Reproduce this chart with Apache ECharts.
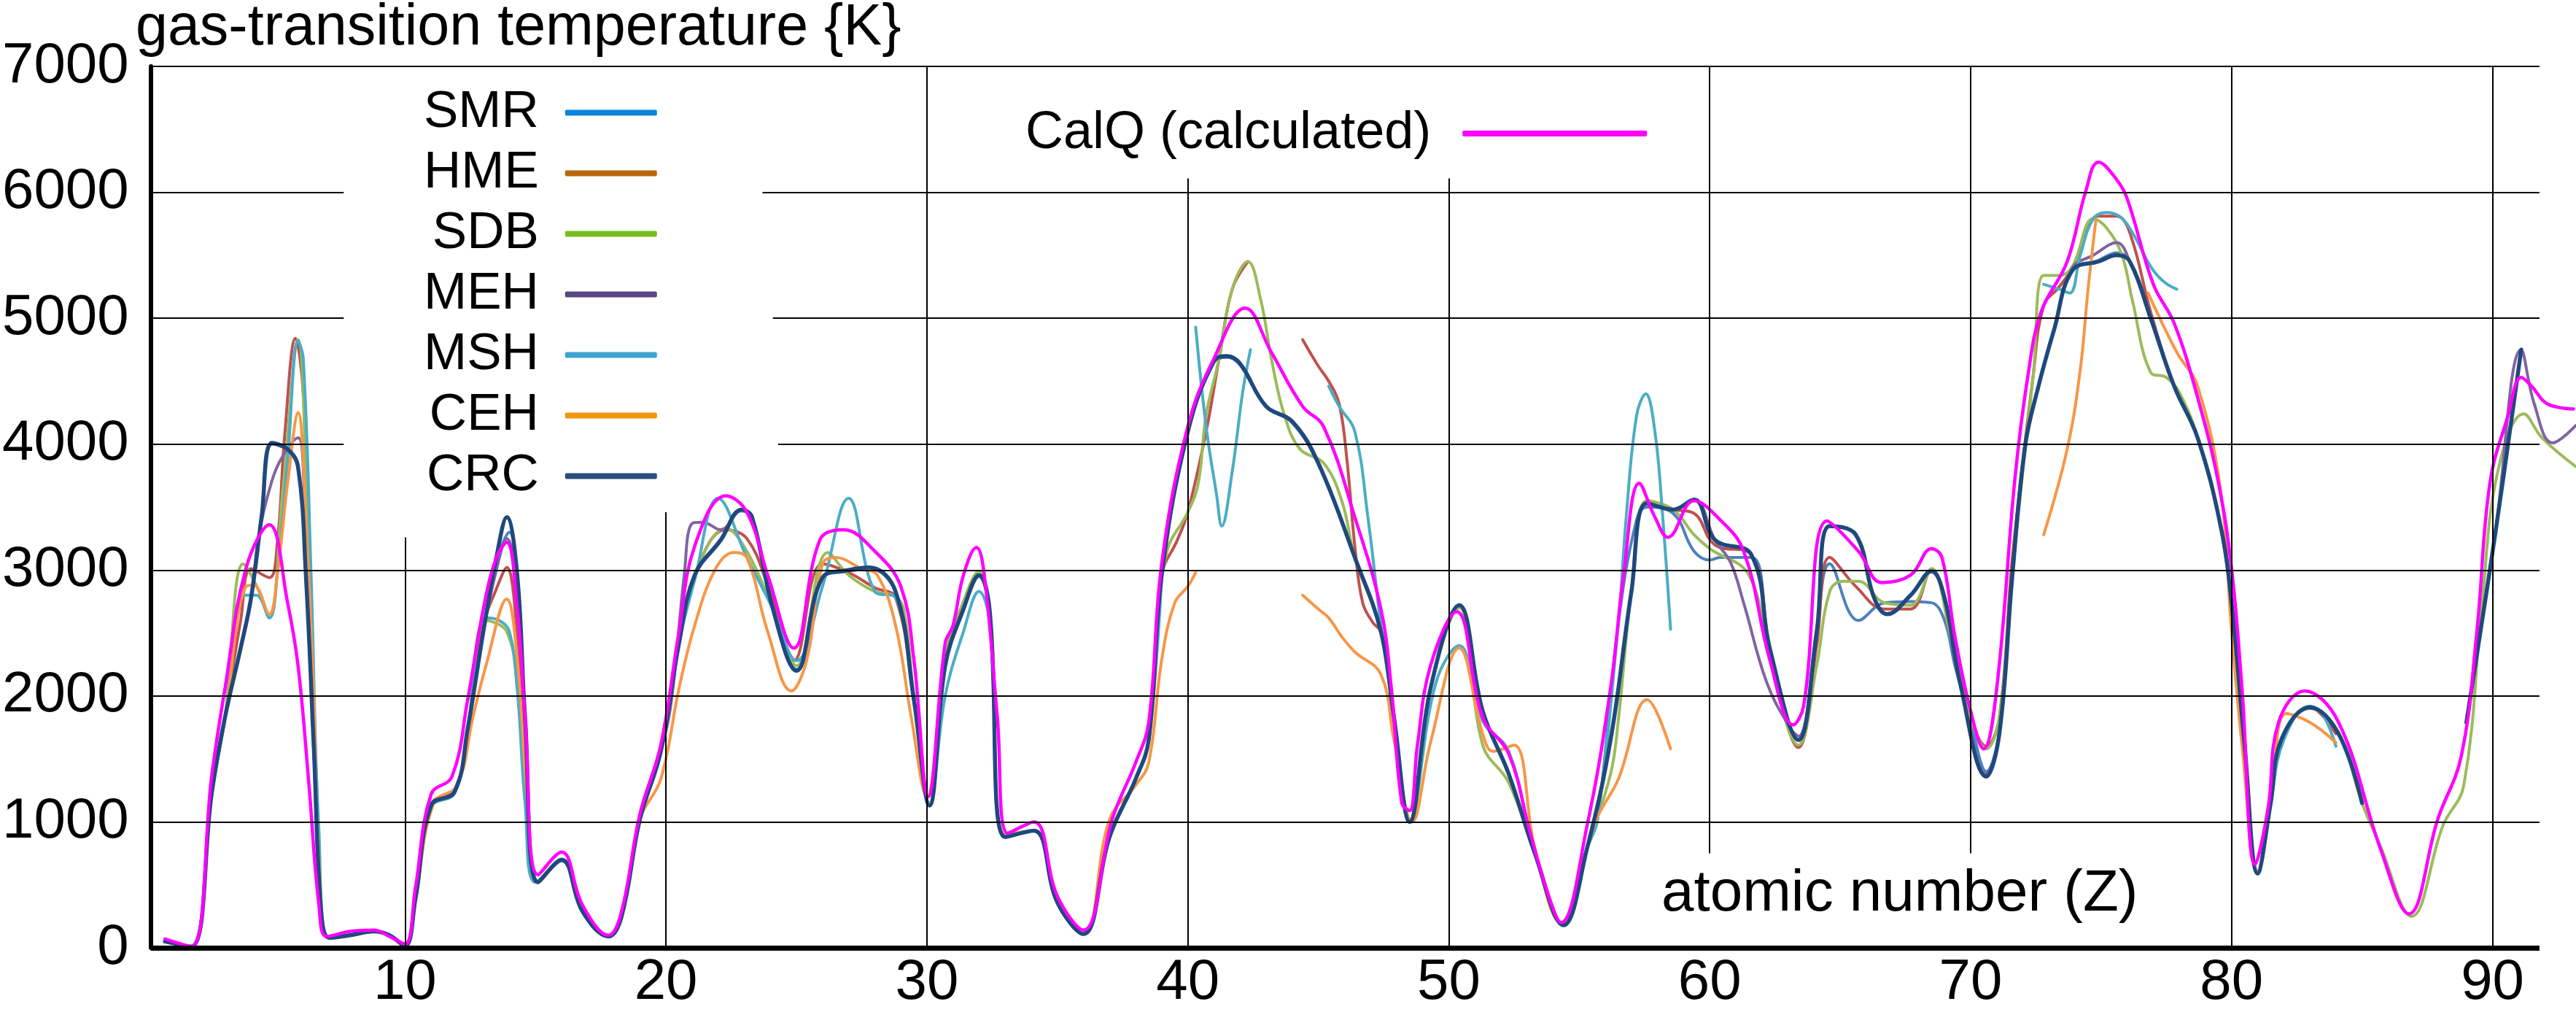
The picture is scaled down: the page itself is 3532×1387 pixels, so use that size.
<!DOCTYPE html>
<html>
<head>
<meta charset="utf-8">
<script src="https://cdn.jsdelivr.net/npm/echarts@6/dist/echarts.min.js"></script>
<style>
  html, body { margin: 0; padding: 0; background: #fff; }
  #chart { width: 3532px; height: 1387px; }
</style>
</head>
<body>
<div id="chart"></div>
<script>
// 气化温度 vs 原子序数
var FONT = '"Liberation Sans", Arial, sans-serif';
var GAP = '-';

var yTicks = [0, 1000, 2000, 3000, 4000, 5000, 6000, 7000];
var xTicks = [10, 20, 30, 40, 50, 60, 70, 80, 90];

var seriesNames = ['SMR', 'HME', 'SDB', 'MEH', 'MSH', 'CEH', 'CRC'];
var calqName = 'CalQ (calculated)';

// [Z, T(K)]
var smr = [[0.8,50],[1.8,10],[2.6,1240],[3.1,1830],[3.7,2380],[4.1,2780],[4.5,3420],[4.9,4000],[5.5,3950],[5.9,3810],[6.2,2960],[6.5,1610],[6.8,250],[7.1,80],[7.9,100],[8.8,130],[9.4,100],[10.0,15],[10.4,390],[11.0,1120],[11.9,1230],[12.4,1740],[13.0,2510],[13.5,3050],[14.0,3300],[14.3,2900],[14.6,1830],[15.1,520],[16.0,690],[16.8,290],[17.8,90],[18.3,250],[19.0,1010],[19.8,1550],[20.5,2410],[21.1,2950],[22.1,3230],[22.9,3470],[23.3,3410],[24.1,2690],[25.0,2210],[26.0,2940],[27.0,2990],[27.8,3010],[28.8,2820],[29.5,1970],[30.1,1130],[30.7,2230],[31.4,2680],[32.0,2950],[32.4,2680],[33.0,880],[34.1,930],[35.0,360],[36.0,110],[37.0,880],[38.0,1340],[38.5,1650],[39.0,2960],[40.0,4090],[41.0,4650],[41.5,4690],[42.0,4630],[43.0,4300],[44.0,4170],[45.0,3840],[46.4,3100],[47.4,2510],[47.9,1830],[48.5,1000],[49.3,2060],[50.4,2710],[51.3,1880],[52.3,1380],[53.3,750],[54.4,180],[55.3,790],[55.7,1020],[56.5,2580],[57.2,3400],[57.6,3500],[58.6,3450],[59.4,3150],[60.0,3080],[60.4,3100],[61.6,3100],[62.3,2380],[63.4,1650],[64.1,2510],[64.6,3050],[65.7,2600],[66.7,2740],[67.7,2750],[68.5,2740],[69.0,2600],[69.4,2240],[70.0,1800],[70.6,1400],[71.1,1720],[71.6,2960],[72.1,4000],[72.6,4460],[73.2,4910],[73.9,5380],[74.9,5460],[75.6,5520],[76.1,5450],[76.9,5000],[77.8,4460],[78.7,4050],[79.6,3330],[80.0,2740],[80.5,1610],[81.0,590],[81.5,1150],[81.9,1650],[83.0,1910],[84.1,1700],[85.0,1150]];

var hme = [[0.8,50],[1.8,10],[2.6,1240],[3.1,1830],[3.7,2600],[4.1,3010],[4.8,2940],[5.1,3200],[5.4,4100],[5.8,4840],[6.1,4400],[6.3,2960],[6.7,700],[7.1,80],[7.9,100],[8.8,130],[9.4,100],[10.0,15],[10.4,390],[11.0,1140],[11.9,1260],[12.4,1700],[13.0,2560],[13.5,2850],[13.9,3020],[14.3,2500],[14.6,1700],[15.1,520],[16.0,700],[16.8,290],[17.8,90],[18.3,250],[19.0,1020],[19.8,1560],[20.5,2420],[21.1,2960],[22.3,3320],[23.1,3250],[23.9,2880],[24.9,2280],[26.0,3050],[27.0,2980],[28.0,2860],[28.8,2780],[29.5,1970],[30.1,1130],[30.7,2240],[31.4,2690],[32.0,2960],[32.4,2690],[33.0,880],[34.1,930],[35.0,360],[36.0,110],[37.0,880],[38.0,1340],[38.5,1650],[39.0,2960],[39.6,3240],[40.0,3460],[40.7,4100],[41.2,4680],[41.7,5230],[42.3,5450],[43.3,GAP],[44.4,4830],[45.0,4620],[45.4,4500],[45.8,4320],[46.1,3870],[46.4,3190],[46.7,2740],[47.1,2580],[47.4,2510],[47.9,1830],[48.5,1000],[49.3,2060],[50.4,2720],[51.3,1880],[52.3,1380],[53.3,750],[54.4,180],[55.3,790],[56.2,1650],[57.0,2830],[57.6,3530],[58.6,3480],[59.4,3450],[60.2,3200],[61.6,3120],[62.3,2380],[63.4,1590],[64.1,2400],[64.6,3100],[65.6,2870],[66.7,2690],[67.7,2690],[68.5,3010],[69.2,2520],[70.0,1830],[70.6,1600],[71.1,1830],[71.6,3100],[72.4,4550],[72.8,5100],[73.4,5250],[73.9,5400],[74.9,5810],[75.6,5810],[76.1,5680],[76.9,5050],[77.8,4460],[78.7,4050],[79.6,3330],[80.0,2740],[80.5,1610],[81.0,590],[81.5,1150],[81.9,1650],[83.0,1910],[84.0,1700]];

var sdb = [[0.8,50],[1.8,10],[2.6,1240],[3.1,1830],[3.8,3050],[4.3,2880],[4.8,2620],[5.3,3600],[5.9,4830],[6.3,3000],[6.7,700],[7.1,80],[7.9,100],[8.8,130],[9.4,100],[10.0,15],[10.4,390],[11.0,1130],[11.9,1240],[12.4,1740],[13.1,2600],[13.9,2510],[14.3,2060],[14.6,1300],[15.1,520],[16.0,700],[16.8,290],[17.8,90],[18.3,250],[19.0,1020],[19.8,1560],[20.5,2420],[21.1,2960],[22.3,3330],[23.1,3150],[24.1,2690],[25.0,2240],[26.2,3140],[27.0,2960],[28.0,2830],[28.7,2800],[29.1,2700],[29.5,2000],[30.1,1150],[30.7,2300],[31.4,2750],[32.0,2990],[32.4,2700],[33.0,880],[34.1,930],[35.0,360],[36.0,110],[37.0,880],[38.0,1340],[38.5,1650],[38.8,2500],[39.2,3150],[40.0,3460],[40.4,3690],[40.7,4230],[41.2,4680],[41.7,5230],[42.3,5450],[42.8,5140],[43.2,4680],[43.7,4230],[44.3,3960],[45.2,3850],[45.9,3550],[46.4,3100],[47.4,2510],[47.9,1830],[48.5,1000],[49.3,2060],[50.4,2700],[51.3,1610],[52.3,1310],[53.3,750],[54.4,180],[55.3,790],[56.2,1380],[56.5,1810],[57.0,2830],[57.6,3550],[58.6,3480],[59.4,3280],[60.0,3170],[61.5,2960],[62.3,2290],[63.4,1610],[64.1,2240],[64.6,2830],[65.1,2910],[65.7,2910],[66.7,2740],[67.7,2720],[68.5,3010],[69.2,2510],[70.0,1830],[70.6,1580],[71.1,1830],[71.7,3190],[72.4,4550],[72.8,5340],[73.4,5340],[73.9,5410],[74.7,5790],[75.2,5720],[75.8,5500],[76.2,5140],[76.9,4570],[77.5,4530],[78.0,4410],[78.7,4050],[79.6,3330],[80.0,2690],[80.5,1610],[81.0,610],[81.5,1150],[81.9,1650],[83.0,1900],[84.1,1700],[85.0,1150],[85.7,810],[86.9,250],[88.1,970],[88.9,1290],[89.6,2740],[90.2,3780],[91.2,4240],[91.9,4050],[93.2,3820]];

var meh = [[0.8,50],[1.8,10],[2.6,1240],[3.1,1830],[3.7,2380],[4.1,2780],[4.4,3280],[4.9,3710],[5.3,3900],[5.9,4050],[6.1,3800],[6.5,1610],[6.8,250],[7.1,80],[7.9,100],[8.8,130],[9.4,100],[10.0,15],[10.4,390],[11.0,1130],[11.9,1240],[12.4,1740],[13.0,2510],[13.5,3000],[13.9,3250],[14.3,2900],[14.6,1830],[15.1,520],[16.0,700],[16.8,290],[17.8,90],[18.3,250],[19.0,1020],[19.8,1560],[20.2,1950],[20.7,2960],[21.0,3370],[21.4,3380],[22.1,3320],[22.9,3480],[23.3,3420],[24.1,2690],[25.0,2200],[26.0,2940],[27.0,3000],[27.8,3020],[28.8,2830],[29.5,1970],[30.1,1130],[30.7,2240],[31.4,2690],[32.0,2960],[32.4,2690],[33.0,880],[34.1,930],[35.0,360],[36.0,110],[37.0,880],[38.0,1340],[38.5,1650],[39.0,2960],[40.0,4100],[41.0,4660],[41.5,4700],[42.0,4640],[43.0,4300],[44.0,4180],[45.0,3850],[46.4,3100],[47.4,2510],[47.9,1830],[48.5,1000],[49.3,2060],[50.4,2720],[51.3,1880],[52.3,1380],[53.3,750],[54.4,180],[55.3,790],[56.2,1650],[57.0,2830],[57.6,3530],[58.6,3480],[59.4,3560],[60.2,3240],[60.8,3060],[61.3,2740],[62.2,2100],[63.1,1740],[63.4,1680],[64.1,2510],[64.6,3350],[65.6,3280],[66.3,2780],[66.8,2650],[67.7,2800],[68.5,2990],[69.0,2780],[69.6,2100],[70.6,1380],[71.1,1700],[71.6,2960],[72.1,4000],[72.6,4460],[73.2,4910],[73.9,5400],[74.7,5500],[75.6,5600],[76.1,5450],[76.9,5000],[77.8,4460],[78.7,4050],[79.6,3330],[80.0,2740],[80.5,1610],[81.0,590],[81.5,1150],[81.9,1650],[83.0,1910],[84.1,1700],[85.0,1150],[87.0,GAP],[89.0,1790],[90.1,3280],[91.1,4750],[91.6,4320],[92.3,4010],[93.2,4150]];

var msh = [[0.8,50],[1.8,10],[2.6,1240],[3.1,1830],[3.8,2800],[4.3,2800],[4.8,2620],[5.1,2960],[5.5,3870],[5.9,4820],[6.1,4680],[6.4,2960],[6.7,930],[7.1,80],[7.9,100],[8.8,130],[9.4,100],[10.0,15],[10.4,390],[11.0,1120],[11.9,1230],[12.4,1740],[13.1,2620],[13.6,2600],[14.0,2510],[14.3,2060],[14.6,1150],[15.0,520],[16.0,690],[16.8,290],[17.8,90],[18.3,250],[19.0,1020],[19.8,1560],[20.5,2420],[21.1,2920],[22.0,3570],[23.1,3100],[24.1,2690],[25.0,2280],[26.0,2870],[27.0,3570],[28.0,2830],[28.8,2780],[29.5,2000],[30.1,1130],[30.7,2000],[31.4,2510],[32.0,2830],[32.4,2600],[33.0,880],[34.1,930],[35.0,360],[36.0,110],[37.0,880],[38.0,1340],[38.5,1650],[39.0,2960],[39.7,GAP],[40.3,4930],[40.7,4140],[41.1,3600],[41.3,3350],[41.7,3780],[42.1,4410],[42.4,4750],[43.9,GAP],[45.4,4460],[45.8,4300],[46.4,4100],[46.9,3420],[47.4,2560],[47.9,1830],[48.5,1000],[49.5,2100],[50.4,2400],[51.3,1800],[52.3,1560],[53.3,750],[54.4,180],[55.3,790],[55.7,1020],[56.5,2580],[56.8,3420],[57.2,4230],[57.55,4400],[57.9,4100],[58.2,3420],[58.5,2530],[65.0,GAP],[72.8,5270],[73.4,5230],[73.8,5200],[74.2,5500],[74.7,5790],[75.2,5840],[75.7,5810],[76.2,5680],[76.9,5410],[77.4,5290],[77.9,5230],[78.7,GAP],[79.6,3330],[80.0,2740],[80.5,1610],[81.0,590],[81.5,1150],[82.0,1650],[83.0,1920],[83.5,1850],[84.0,1600]];

var ceh = [[0.8,50],[1.8,10],[2.6,1240],[3.1,1830],[3.9,2870],[4.2,2880],[4.8,2650],[5.1,2960],[5.5,3690],[5.9,4250],[6.2,3420],[6.5,2000],[6.7,700],[7.1,80],[7.9,100],[8.8,130],[9.4,100],[10.0,15],[10.4,390],[11.1,1150],[12.0,1290],[12.6,1830],[13.1,2240],[13.9,2770],[14.3,2290],[14.7,1150],[15.1,520],[16.0,700],[16.8,290],[17.8,90],[18.3,250],[19.0,1020],[19.8,1340],[20.5,2060],[21.1,2560],[21.9,3010],[22.6,3140],[23.1,3100],[23.9,2510],[24.8,2040],[25.4,2290],[26.0,3050],[26.5,3100],[27.5,3010],[28.1,2960],[28.8,2560],[29.4,1830],[30.0,1200],[30.7,2240],[31.4,2690],[32.0,2960],[32.4,2690],[33.0,900],[34.1,930],[35.0,360],[36.0,110],[37.0,1020],[38.0,1290],[38.5,1470],[39.0,2290],[39.5,2740],[40.0,2870],[40.3,2980],[42.4,GAP],[44.4,2800],[45.0,2690],[45.4,2620],[45.9,2470],[46.4,2350],[47.4,2170],[47.9,1650],[48.6,1000],[49.3,1630],[50.4,2380],[51.3,1700],[51.7,1560],[52.5,1610],[53.3,790],[54.3,200],[55.3,790],[55.7,1040],[56.5,1340],[57.6,1970],[58.5,1580],[65.0,GAP],[72.8,3280],[73.7,3960],[74.2,4590],[74.5,5230],[74.8,5780],[75.8,GAP],[76.8,5200],[77.9,4730],[78.7,4460],[79.6,3600],[80.0,2510],[80.4,1610],[81.0,600],[81.5,1150],[82.1,1860],[83.0,1790],[84.0,1630]];

var crc = [[0.8,50],[1.8,10],[2.6,1240],[3.1,1830],[3.7,2380],[4.1,2780],[4.5,3420],[4.9,4010],[5.5,3960],[5.9,3820],[6.2,2960],[6.5,1610],[6.8,250],[7.1,80],[7.9,100],[8.8,130],[9.4,100],[10.0,15],[10.4,390],[11.0,1130],[11.9,1240],[12.4,1740],[13.0,2510],[13.5,3100],[13.9,3420],[14.3,2960],[14.6,1830],[15.1,520],[16.0,700],[16.8,290],[17.8,90],[18.3,250],[19.0,1020],[19.8,1560],[20.5,2420],[21.1,2960],[22.1,3240],[22.9,3480],[23.3,3420],[24.1,2690],[25.0,2200],[26.0,2940],[27.0,3000],[27.8,3020],[28.8,2830],[29.5,1970],[30.1,1130],[30.7,2240],[31.4,2690],[32.0,2960],[32.4,2690],[33.0,880],[34.1,930],[35.0,360],[36.0,110],[37.0,880],[38.0,1340],[38.5,1650],[39.0,2960],[40.0,4100],[41.0,4660],[41.5,4700],[42.0,4640],[43.0,4300],[44.0,4180],[45.0,3850],[46.4,3100],[47.4,2510],[47.9,1830],[48.5,1000],[49.3,2060],[50.4,2720],[51.3,1880],[52.3,1380],[53.3,750],[54.4,180],[55.3,790],[56.2,1650],[57.0,2830],[57.6,3530],[58.6,3480],[59.4,3560],[60.2,3240],[61.6,3120],[62.3,2380],[63.4,1650],[64.1,2510],[64.6,3350],[65.6,3280],[66.3,2780],[66.8,2650],[67.7,2800],[68.5,2990],[69.0,2780],[69.6,2100],[70.6,1360],[71.1,1700],[71.6,2960],[72.1,4000],[72.6,4460],[73.2,4910],[73.9,5380],[74.9,5450],[75.6,5500],[76.1,5450],[76.9,5000],[77.8,4460],[78.7,4050],[79.6,3330],[80.0,2740],[80.5,1610],[81.0,590],[81.5,1150],[81.9,1650],[83.0,1910],[84.1,1700],[85.0,1150],[87.0,GAP],[89.0,1790],[90.1,3280],[91.1,4750]];

var calq = [[0.8,70],[1.8,10],[2.6,1380],[3.1,2060],[3.9,3010],[4.8,3360],[5.5,2740],[5.9,2240],[6.3,1340],[6.7,340],[7.0,90],[7.9,130],[8.8,140],[9.4,90],[10.0,30],[10.4,480],[11.0,1220],[11.8,1360],[12.4,1970],[13.0,2690],[13.5,3100],[13.9,3220],[14.3,2690],[14.6,1830],[15.1,580],[16.0,760],[16.8,340],[17.8,100],[18.3,290],[19.0,1060],[19.8,1610],[20.5,2510],[21.1,3190],[22.3,3590],[23.1,3460],[23.9,2960],[24.9,2380],[25.9,3240],[26.8,3320],[28.0,3150],[29.0,2870],[29.5,2290],[30.05,1200],[30.7,2420],[31.0,2560],[31.4,2960],[31.9,3180],[32.2,2960],[32.7,1830],[33.1,910],[34.1,1000],[35.0,410],[36.0,140],[37.1,1020],[38.0,1470],[38.5,1790],[39.0,3050],[40.0,4140],[41.0,4680],[42.2,5080],[43.2,4730],[44.4,4300],[45.2,4140],[46.4,3420],[47.4,2690],[47.8,2060],[48.2,1150],[48.5,1090],[48.8,1610],[49.3,2240],[50.3,2670],[51.3,1830],[52.3,1540],[53.1,930],[53.8,430],[54.3,200],[55.3,970],[56.2,2060],[56.7,2960],[57.3,3690],[57.9,3420],[58.4,3260],[59.4,3550],[60.3,3420],[61.3,3150],[62.3,2290],[63.2,1770],[63.6,1920],[64.5,3390],[65.7,3150],[66.6,2900],[67.7,2960],[68.5,3170],[68.9,3100],[69.4,2470],[70.0,1880],[70.5,1580],[71.0,2060],[71.7,3730],[72.2,4550],[72.7,5050],[73.7,5450],[74.4,6000],[74.9,6240],[75.6,6100],[76.0,5950],[77.0,5270],[77.8,4960],[78.7,4370],[79.5,3690],[80.0,3010],[80.4,2060],[80.9,660],[81.4,1110],[81.8,1790],[82.8,2040],[84.1,1790],[85.7,790],[86.8,270],[87.9,1020],[88.8,1520],[89.4,2510],[89.9,3690],[90.6,4230],[91.1,4530],[91.5,4460],[92.1,4320],[93.1,4280]];

// 网格线（原图是手画的，部分断开）[x1, y1, x2, y2]
var gridSegs = [
  [0.25, 7000, 91.8, 7000],
  [0.25, 6000, 7.65, 6000], [23.7, 6000, 91.8, 6000],
  [0.25, 5000, 7.65, 5000], [24.1, 5000, 91.8, 5000],
  [0.25, 4000, 7.65, 4000], [24.3, 4000, 91.8, 4000],
  [0.25, 3000, 91.8, 3000],
  [0.25, 2000, 91.8, 2000],
  [0.25, 1000, 91.8, 1000],
  [10, 0, 10, 3260], [20, 0, 20, 3460], [30, 0, 30, 7000],
  [40, 0, 40, 6110], [50, 0, 50, 6110],
  [60, 750, 60, 7000], [70, 750, 70, 7000],
  [80, 0, 80, 7000], [90, 0, 90, 7000]
];
var axisSeg = [0.25, 0, 91.8, 0];

var lineColors = ['#4f81bd', '#c0504d', '#9bbb59', '#8064a2', '#4bacc6', '#f79646', '#1f497d'];
var legendColors = ['#0a84d8', '#b8650a', '#77bc1f', '#5a4682', '#3fa3cf', '#f0950c', '#2b4e7e'];
var seriesData = [smr, hme, sdb, meh, msh, ceh, crc];

var myChart = echarts.init(document.getElementById('chart'), null, { renderer: 'canvas' });

var markData = gridSegs.map(function (s) {
    return [{ coord: [s[0], s[1]] }, { coord: [s[2], s[3]] }];
});
// 粗的横轴线
markData.push([
    { coord: [axisSeg[0], axisSeg[1]], lineStyle: { width: 7 } },
    { coord: [axisSeg[2], axisSeg[3]] }
]);

var series = [{
    name: 'grid',
    type: 'line',
    data: [],
    silent: true,
    z: 1,
    markLine: {
        silent: true,
        symbol: ['none', 'none'],
        label: { show: false },
        lineStyle: { color: '#000', width: 2, type: 'solid' },
        data: markData
    }
}];

seriesNames.forEach(function (name, i) {
    series.push({
        name: name,
        type: 'line',
        data: seriesData[i],
        smooth: 0.4,
        showSymbol: false,
        z: 2,
        itemStyle: { color: lineColors[i] },
        lineStyle: { color: lineColors[i], width: name === 'CRC' ? 5.5 : 4, cap: 'round', join: 'round' }
    });
});
series.push({
    name: calqName,
    type: 'line',
    data: calq,
    smooth: 0.4,
    showSymbol: false,
    z: 3,
    itemStyle: { color: '#ff00ff' },
    lineStyle: { color: '#ff00ff', width: 4.5, cap: 'round', join: 'round' }
});

var option = {
    animation: false,
    backgroundColor: '#fff',
    grid: { left: 204, right: 0, top: 91, bottom: 88 },
    xAxis: {
        type: 'value',
        min: 0.25,
        max: 93.2,
        axisLine: { show: false },
        axisTick: { show: false },
        splitLine: { show: false },
        axisLabel: {
            customValues: xTicks,
            color: '#000',
            fontSize: 78,
            fontFamily: FONT,
            margin: 9
        }
    },
    yAxis: {
        type: 'value',
        min: yTicks[0],
        max: yTicks[yTicks.length - 1],
        interval: 1000,
        axisLine: { show: true, lineStyle: { color: '#000', width: 6 } },
        axisTick: { show: false },
        splitLine: { show: false },
        axisLabel: {
            color: '#000',
            fontSize: 78,
            fontFamily: FONT,
            margin: 30,
            formatter: function (v) { return String(v); }
        }
    },
    legend: [
        {
            orient: 'vertical',
            left: 581,
            top: 119,
            align: 'right',
            padding: 0,
            itemWidth: 126,
            itemHeight: 8,
            itemGap: 12,
            icon: 'roundRect',
            selectedMode: false,
            textStyle: { color: '#000', fontSize: 71, lineHeight: 71, fontFamily: FONT, padding: [0, 31, 0, 0] },
            data: seriesNames.map(function (n, i) {
                return { name: n, itemStyle: { color: legendColors[i] } };
            })
        },
        {
            orient: 'horizontal',
            left: 1406,
            top: 147,
            align: 'right',
            padding: 0,
            itemWidth: 253,
            itemHeight: 8,
            icon: 'roundRect',
            selectedMode: false,
            textStyle: { color: '#000', fontSize: 72, lineHeight: 72, fontFamily: FONT, padding: [0, 38, 0, 0] },
            data: [{ name: calqName, itemStyle: { color: '#ff00ff' } }]
        }
    ],
    graphic: [
        {
            type: 'text',
            x: 186,
            y: 39,
            silent: true,
            style: {
                text: 'gas-transition temperature {K}',
                font: '79px ' + FONT,
                fill: '#000',
                align: 'left',
                verticalAlign: 'middle'
            }
        },
        {
            type: 'text',
            x: 2278,
            y: 1226,
            silent: true,
            style: {
                text: 'atomic number (Z)',
                font: '80px ' + FONT,
                fill: '#000',
                align: 'left',
                verticalAlign: 'middle'
            }
        }
    ],
    series: series
};

myChart.setOption(option);
window.addEventListener('resize', function () {
    myChart.resize();
});
</script>
</body>
</html>
